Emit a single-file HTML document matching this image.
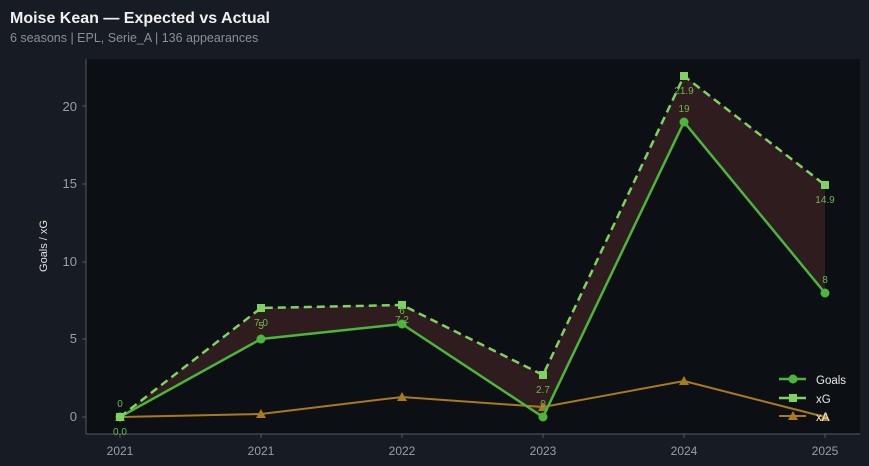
<!DOCTYPE html><html><head><style>html,body{margin:0;background:#171b23;width:869px;height:466px;overflow:hidden;font-family:"Liberation Sans",sans-serif}svg{display:block}</style></head><body>
<svg width="869" height="466" xmlns="http://www.w3.org/2000/svg" font-family="Liberation Sans, sans-serif">
<rect width="869" height="466" fill="#171b23"/>
<text x="10" y="23" fill="#f0f0f0" font-size="16" font-weight="bold">Moise Kean — Expected vs Actual</text>
<text x="10" y="42" fill="#8a8f98" font-size="12.5">6 seasons | EPL, Serie_A | 136 appearances</text>
<rect x="86" y="59" width="774" height="375" fill="#0c0f14"/>
<line x1="86" y1="59" x2="86" y2="434" stroke="#555a63"/>
<line x1="86" y1="434" x2="860" y2="434" stroke="#555a63"/>
<g fill="#9a9ea6" font-size="13" text-anchor="end">
<text x="77" y="421">0</text><text x="77" y="343">5</text><text x="77" y="266">10</text><text x="77" y="188">15</text><text x="77" y="111">20</text></g>
<g stroke="#555a63"><line x1="82" y1="417" x2="86" y2="417"/><line x1="82" y1="339" x2="86" y2="339"/><line x1="82" y1="262" x2="86" y2="262"/><line x1="82" y1="184" x2="86" y2="184"/><line x1="82" y1="106" x2="86" y2="106"/>
<line x1="120" y1="434" x2="120" y2="438"/><line x1="261" y1="434" x2="261" y2="438"/><line x1="402" y1="434" x2="402" y2="438"/><line x1="543" y1="434" x2="543" y2="438"/><line x1="684" y1="434" x2="684" y2="438"/><line x1="825" y1="434" x2="825" y2="438"/></g>
<g fill="#9a9ea6" font-size="12" text-anchor="middle">
<text x="120" y="455">2021</text><text x="261" y="455">2021</text><text x="402" y="455">2022</text><text x="543" y="455">2023</text><text x="684" y="455">2024</text><text x="825" y="455">2025</text></g>
<text transform="translate(47,246) rotate(-90)" fill="#e0e0e0" font-size="11" text-anchor="middle">Goals / xG</text>
<polygon points="120,417 261,308 402,305 543,375 684,76 825,185 825,293 684,122 543,417 402,324 261,339 120,417" fill="#2e1c1f"/>
<polyline points="120,417 261,414 402,397 543,407 684,381 825,417" fill="none" stroke="#a87a1c" stroke-width="2"/>
<g fill="#a87a1c"><polygon points="120,412 125,421 115,421"/><polygon points="261,409 266,418 256,418"/><polygon points="402,392 407,401 397,401"/><polygon points="543,402 548,411 538,411"/><polygon points="684,376 689,385 679,385"/><polygon points="825,412 830,421 820,421"/></g>
<polyline points="120,417 261,339 402,324 543,417 684,122 825,293" fill="none" stroke="#4cb53c" stroke-width="2.5"/>
<g fill="#4cb53c"><circle cx="120" cy="417" r="4.5"/><circle cx="261" cy="339" r="4.5"/><circle cx="402" cy="324" r="4.5"/><circle cx="543" cy="417" r="4.5"/><circle cx="684" cy="122" r="4.5"/><circle cx="825" cy="293" r="4.5"/></g>
<polyline points="120,417 261,308 402,305 543,375 684,76 825,185" fill="none" stroke="#7fd162" stroke-width="2.5" stroke-dasharray="8,5"/>
<g fill="#7fd162"><rect x="116" y="413" width="8" height="8"/><rect x="257" y="304" width="8" height="8"/><rect x="398" y="301" width="8" height="8"/><rect x="539" y="371" width="8" height="8"/><rect x="680" y="72" width="8" height="8"/><rect x="821" y="181" width="8" height="8"/></g>
<g fill="#6cb84a" font-size="10" text-anchor="middle">
<text x="120" y="407">0</text><text x="261" y="329">5</text><text x="402" y="314">6</text><text x="543" y="407">0</text><text x="684" y="112">19</text><text x="825" y="283">8</text>
<text x="120" y="435">0.0</text><text x="261" y="326">7.0</text><text x="402" y="323">7.2</text><text x="543" y="393">2.7</text><text x="684" y="94">21.9</text><text x="825" y="203">14.9</text></g>
<g font-size="11.5" fill="#e8e8e8">
<line x1="779" y1="379" x2="806" y2="379" stroke="#4cb53c" stroke-width="2.5"/><circle cx="793" cy="379" r="4.5" fill="#4cb53c"/><text x="816" y="384">Goals</text>
<line x1="779" y1="398" x2="806" y2="398" stroke="#7fd162" stroke-width="2.5"/><rect x="789" y="394" width="8" height="8" fill="#7fd162"/><text x="816" y="403">xG</text>
<line x1="779" y1="416" x2="806" y2="416" stroke="#a87a1c" stroke-width="2"/><polygon points="793,411 798,420 788,420" fill="#a87a1c"/><text x="816" y="421">xA</text></g>
</svg></body></html>
